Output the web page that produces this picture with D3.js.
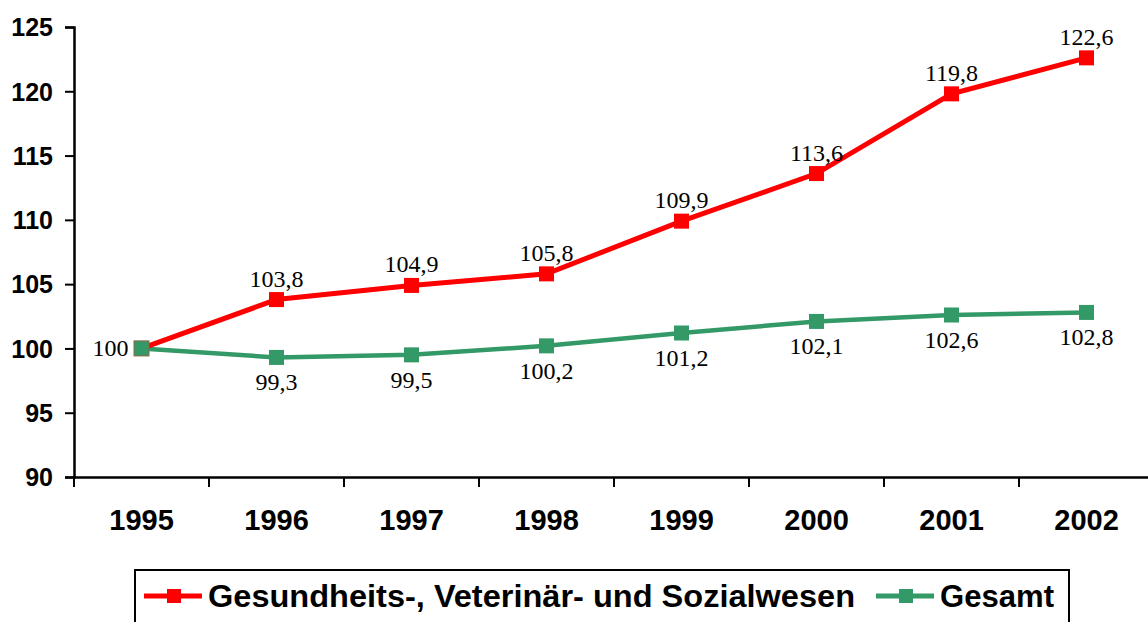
<!DOCTYPE html>
<html>
<head>
<meta charset="utf-8">
<script src="https://cdn.jsdelivr.net/npm/d3@7"></script>
<style>
  body { margin: 0; background: #fff; }
  svg { display: block; }
  .tick-y { font: bold 25px "Liberation Sans", Arial, sans-serif; }
  .tick-x { font: bold 29px "Liberation Sans", Arial, sans-serif; }
  .value  { font: 24px "Liberation Serif", "Times New Roman", serif; }
  .legend-text { font: bold 31px "Liberation Sans", Arial, sans-serif; }
</style>
</head>
<body>
<svg id="chart" width="1148" height="622"></svg>
<script>
// Chart data
const years   = [ '1995', '1996', '1997', '1998', '1999', '2000', '2001', '2002' ];
const health  = [ 100, 103.8, 104.9, 105.8, 109.9, 113.6, 119.8, 122.6 ];
const total   = [ 100, 99.3, 99.5, 100.2, 101.2, 102.1, 102.6, 102.8 ];
const yTicks  = [ 90, 95, 100, 105, 110, 115, 120, 125 ];
const seriesNames = [ 'Gesundheits-, Veterinär- und Sozialwesen', 'Gesamt' ];

const svg    = d3.select( '#chart' );
const margin = { top: 27, left: 74 };
const plotW  = 1080, plotH = 450;

const x = d3.scaleBand().domain( years ).range( [ margin.left, margin.left + plotW ] );
const y = d3.scaleLinear().domain( [ 90, 125 ] ).range( [ margin.top + plotH, margin.top ] );
const fmt = v => String( v ).replace( '.', ',' );

// axes
const yAxis = svg.append( 'g' )
  .attr( 'transform', `translate(${margin.left},0)` )
  .call( d3.axisLeft( y ).tickValues( yTicks ).tickSize( 9 ).tickPadding( 12 ) );
const xAxis = svg.append( 'g' )
  .attr( 'transform', `translate(0,${margin.top + plotH})` )
  .call( d3.axisBottom( x ).tickSize( 0 ).tickPadding( 32 ) );
// category boundary ticks
xAxis.selectAll( '.bound' )
  .data( years )
  .enter().append( 'line' )
    .attr( 'x1', d => x( d ) ).attr( 'x2', d => x( d ) )
    .attr( 'y1', 0 ).attr( 'y2', 10 )
    .attr( 'stroke', '#000' ).attr( 'stroke-width', 2 );

[ yAxis, xAxis ].forEach( a => {
  a.attr( 'font-size', null ).attr( 'font-family', null );
  a.select( '.domain' ).attr( 'stroke', '#000' ).attr( 'stroke-width', 2.5 );
  a.selectAll( '.tick line' ).attr( 'stroke', '#000' ).attr( 'stroke-width', 2 );
  a.selectAll( 'text' ).attr( 'fill', '#000' );
} );
yAxis.selectAll( 'text' ).attr( 'class', 'tick-y' ).attr( 'dy', '0.35em' );
xAxis.selectAll( '.tick text' ).attr( 'class', 'tick-x' );

const cx = d => x( d ) + x.bandwidth() / 2;
const series = [
  { values: health, color: '#ff0000', width: 5,   labelDy: -13 },
  { values: total,  color: '#339966', width: 4.5, labelDy: 33  }
];

const line = d3.line().x( d => cx( d.year ) ).y( d => y( d.v ) );

// draw the green series first so red sits on top at the shared start
series.slice().reverse().forEach( s => {
  const pts = years.map( ( yr, i ) => ( { year: yr, v: s.values[i] } ) );
  svg.append( 'path' )
    .datum( pts )
    .attr( 'd', line )
    .attr( 'fill', 'none' )
    .attr( 'stroke', s.color )
    .attr( 'stroke-width', s.width );
  svg.selectAll( null )
    .data( pts )
    .enter().append( 'rect' )
      .attr( 'x', d => cx( d.year ) - 7.5 )
      .attr( 'y', d => y( d.v ) - 7.5 )
      .attr( 'width', 15 ).attr( 'height', 15 )
      .attr( 'fill', s.color );
} );
// the shared 1995 marker is drawn green with a thin border
svg.append( 'rect' )
  .attr( 'x', cx( years[0] ) - 7.5 ).attr( 'y', y( total[0] ) - 7.5 )
  .attr( 'width', 15 ).attr( 'height', 15 )
  .attr( 'fill', '#339966' ).attr( 'stroke', '#8a6a4a' ).attr( 'stroke-width', 1 );

// value labels (the shared 100 at 1995 is shown once, left of the point)
series.forEach( ( s, si ) => {
  const pts = s.values
    .map( ( v, i ) => ( { v, i } ) )
    .filter( p => !( si === 1 && p.i === 0 ) );
  svg.selectAll( null )
    .data( pts )
    .enter().append( 'text' )
      .attr( 'class', 'value' )
      .attr( 'x', p => p.i === 0 ? cx( years[0] ) - 13 : cx( years[p.i] ) )
      .attr( 'y', p => p.i === 0 ? y( p.v ) + 8 : y( p.v ) + s.labelDy )
      .attr( 'text-anchor', p => p.i === 0 ? 'end' : 'middle' )
      .text( p => fmt( p.v ) );
} );

// legend
const legend = svg.append( 'g' );
legend.append( 'rect' )
  .attr( 'x', 135 ).attr( 'y', 570 )
  .attr( 'width', 934 ).attr( 'height', 70 )
  .attr( 'fill', '#fff' ).attr( 'stroke', '#000' ).attr( 'stroke-width', 2 );
const legendItems = [
  { name: seriesNames[0], color: '#ff0000', x0: 144, len: 647 },
  { name: seriesNames[1], color: '#339966', x0: 876, len: 114 }
];
legendItems.forEach( it => {
  legend.append( 'line' )
    .attr( 'x1', it.x0 ).attr( 'x2', it.x0 + 58 )
    .attr( 'y1', 596 ).attr( 'y2', 596 )
    .attr( 'stroke', it.color ).attr( 'stroke-width', 5 );
  legend.append( 'rect' )
    .attr( 'x', it.x0 + 23 ).attr( 'y', 589 )
    .attr( 'width', 14 ).attr( 'height', 14 )
    .attr( 'fill', it.color );
  legend.append( 'text' )
    .attr( 'class', 'legend-text' )
    .attr( 'x', it.x0 + 64 ).attr( 'y', 607 )
    .attr( 'textLength', it.len )
    .attr( 'lengthAdjust', 'spacingAndGlyphs' )
    .text( it.name );
} );
</script>
</body>
</html>
